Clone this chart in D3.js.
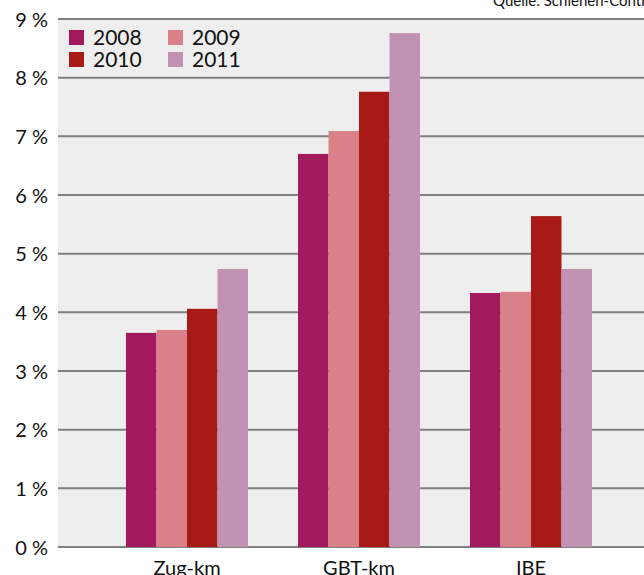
<!DOCTYPE html>
<html><head><meta charset="utf-8">
<script src="https://cdn.jsdelivr.net/npm/d3@7"></script>
<style>body{margin:0;background:#fff;overflow:hidden}svg{display:block}text{font-family:Lato,"Open Sans",sans-serif;fill:#111}</style>
</head><body>
<script>
const categories = ["Zug-km", "GBT-km", "IBE"];
const years = ["2008", "2009", "2010", "2011"];
const v2008 = [3.65, 6.70, 4.33];
const v2009 = [3.70, 7.09, 4.35];
const v2010 = [4.06, 7.76, 5.64];
const v2011 = [4.74, 8.76, 4.74];
const yTicks = [0,1,2,3,4,5,6,7,8,9];
const colors = ["#A21A5B", "#D98088", "#A71A16", "#C192B4"];
const sourceText = "Quelle: Schienen-Control";

const series = [v2008, v2009, v2010, v2011];
const W = 644, H = 575;
const svg = d3.select("body").append("svg").attr("width", W).attr("height", H);

const y = d3.scaleLinear().domain([0, 9]).range([547, 19]);
const x0 = d3.scaleBand().domain(categories).range([101, 617]).paddingInner(50/172).paddingOuter(25/172);
const x1 = d3.scaleBand().domain(years).range([0, x0.bandwidth()]);

// plot background
svg.append("rect").attr("x", 58).attr("y", y(9)).attr("width", W - 58).attr("height", y(0) - y(9)).attr("fill", "#eeeeee");

// gridlines
svg.append("g").selectAll("line").data(yTicks).join("line")
  .attr("x1", 58).attr("x2", W).attr("y1", d => y(d)).attr("y2", d => y(d))
  .attr("stroke", "#7f7f7f").attr("stroke-width", 2);

// y labels
const yAxis = d3.axisLeft(y).tickValues(yTicks).tickSize(0).tickPadding(0).tickFormat(d => d + " %");
const yg = svg.append("g").attr("transform", "translate(48,0)").call(yAxis);
yg.select(".domain").remove();
yg.selectAll("text").style("font-size", "20px").attr("fill", "#111").attr("dy", "0.35em");

// bars
const groups = svg.append("g").selectAll("g").data(categories).join("g")
  .attr("transform", d => `translate(${x0(d)},0)`);
groups.selectAll("rect").data((c, i) => years.map((yr, j) => ({yr, v: series[j][i], j})))
  .join("rect")
  .attr("x", d => x1(d.yr)).attr("width", x1.bandwidth())
  .attr("y", d => y(d.v)).attr("height", d => y(0) - y(d.v))
  .attr("fill", d => colors[d.j]);

// x labels
const xAxis = d3.axisBottom(x0).tickSize(0).tickPadding(0);
const xg = svg.append("g").attr("transform", `translate(0,${y(0)})`).call(xAxis);
xg.select(".domain").remove();
xg.selectAll("text").style("font-size", "20px").attr("fill", "#111").attr("dy", "0").attr("y", 28);

// legend
const leg = svg.append("g");
const legPos = [[69, 30], [168, 30], [69, 52], [168, 52]];
years.forEach((yr, j) => {
  const [lx, ly] = legPos[j];
  leg.append("rect").attr("x", lx).attr("y", ly).attr("width", 15).attr("height", 15).attr("fill", colors[j]);
  leg.append("text").attr("x", lx + 24).attr("y", ly + 15).style("font-size", "21px").text(yr);
});

// source
svg.append("text").attr("x", 493).attr("y", 6).style("font-size", "15px").attr("fill", "#333").text(sourceText);
</script>
</body></html>
